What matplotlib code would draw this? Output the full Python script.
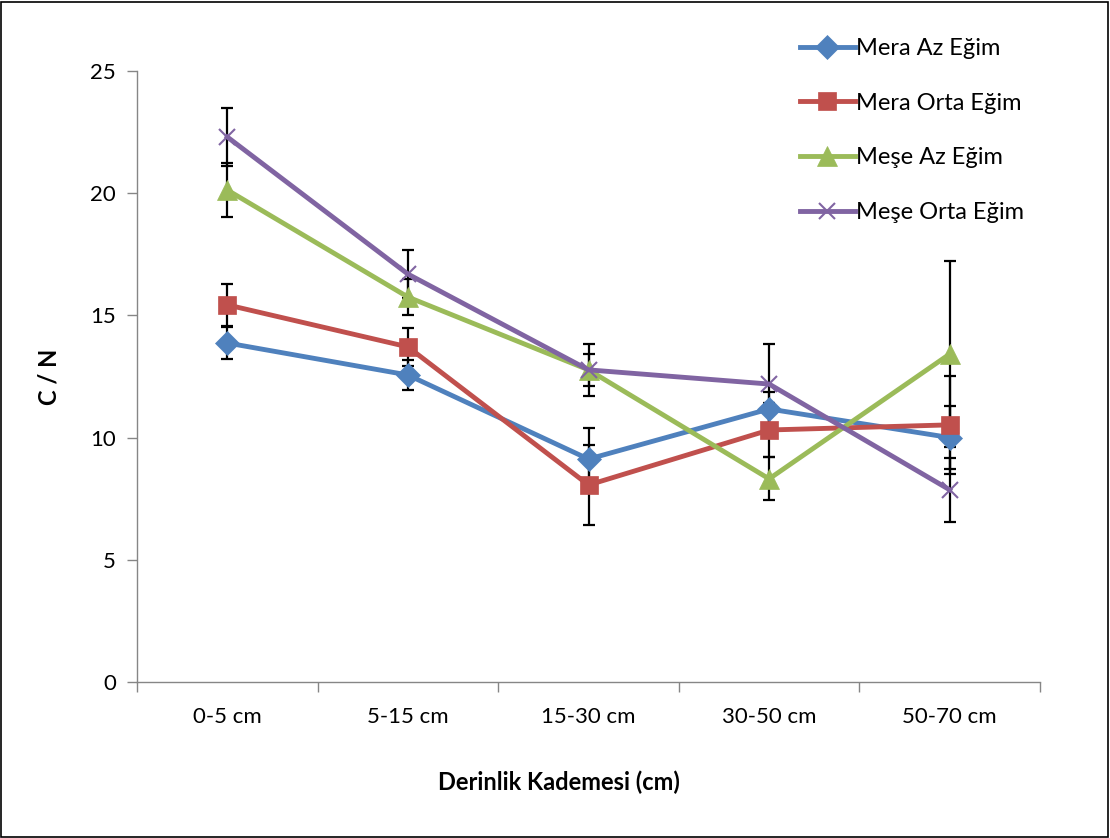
import matplotlib
matplotlib.use('Agg')
import matplotlib.pyplot as plt
import matplotlib.ticker as mticker
from matplotlib.patches import Rectangle
import numpy as np

plt.rcParams['font.family'] = ['Lato', 'DejaVu Sans']
plt.rcParams['font.size'] = 16

depths = ['0-5 cm', '5-15 cm', '15-30 cm', '30-50 cm', '50-70 cm']

mera_az = [13.87, 12.56, 9.12, 11.17, 10.0]
mera_az_err = [0.65, 0.61, 1.27, 0.68, 1.3]
mera_orta = [15.43, 13.71, 8.06, 10.31, 10.52]
mera_orta_err = [0.86, 0.78, 1.65, 1.1, 2.0]
mese_az = [20.13, 15.75, 12.77, 8.31, 13.42]
mese_az_err = [1.1, 0.74, 1.05, 0.88, 3.8]
mese_orta = [22.3, 16.69, 12.77, 12.19, 7.86]
mese_orta_err = [1.18, 0.98, 0.65, 1.64, 1.32]

# label, values, error, colour, marker, marker size
SERIES = [
    ('Mera Az Eğim', mera_az, mera_az_err, '#4F81BD', 'D', 12),
    ('Mera Orta Eğim', mera_orta, mera_orta_err, '#C0504D', 's', 13),
    ('Meşe Az Eğim', mese_az, mese_az_err, '#9BBB59', '^', 15),
    ('Meşe Orta Eğim', mese_orta, mese_orta_err, '#8064A2', 'x', 12),
]

fig = plt.figure(figsize=(11.1, 8.38), dpi=100)
ax = fig.add_axes([0.1234, 0.1862, 0.8136, 0.7291])

x = np.arange(len(depths))
for name, vals, err, color, marker, ms in SERIES:
    # error bars sit behind the lines and markers
    ax.errorbar(x, vals, yerr=err, fmt='none', ecolor='black', elinewidth=1.6,
                capsize=4.3, capthick=1.6, zorder=2)
    ax.plot(x, vals, color=color, lw=3.5, marker=marker, markersize=ms,
            markeredgewidth=1.5 if marker == 'x' else 0.5, markeredgecolor=color,
            label=name, zorder=3)

ax.set_xlim(-0.5, len(depths) - 0.5)
ax.set_ylim(0, 25)
ax.yaxis.set_major_locator(mticker.MultipleLocator(5))
ax.set_xticks(x)
ax.set_xticklabels(depths)
# tick marks between categories, labels centred on them
ax.xaxis.set_minor_locator(mticker.FixedLocator(np.arange(-0.5, len(depths), 1.0)))
ax.tick_params(axis='x', which='major', length=0, pad=18)
ax.tick_params(axis='x', which='minor', length=7, width=1, color='#868686', direction='out')
ax.tick_params(axis='y', length=7, width=1, color='#868686', direction='out', pad=8)

for side in ['top', 'right']:
    ax.spines[side].set_visible(False)
for side in ['left', 'bottom']:
    ax.spines[side].set_color('#868686')
    ax.spines[side].set_linewidth(1)

ax.set_ylabel('C / N', fontweight='bold', fontsize=17)
ax.yaxis.set_label_coords(-0.085, 0.5)
ax.set_xlabel('Derinlik Kademesi (cm)', fontweight='bold', fontsize=17)
ax.xaxis.set_label_coords(0.467, -0.165)
ax.xaxis.label.set_verticalalignment('center')

fig.legend(loc='upper left', bbox_to_anchor=(0.712, 0.966), frameon=False, fontsize=17,
           handlelength=2.33, handletextpad=0.05, labelspacing=1.43, borderaxespad=0)

# thin frame round the whole chart
fig.patches.append(Rectangle((0.001, 0.001), 0.997, 0.997, transform=fig.transFigure,
                             fill=False, edgecolor='black', linewidth=1.2))

fig.savefig('out.png', dpi=100)
